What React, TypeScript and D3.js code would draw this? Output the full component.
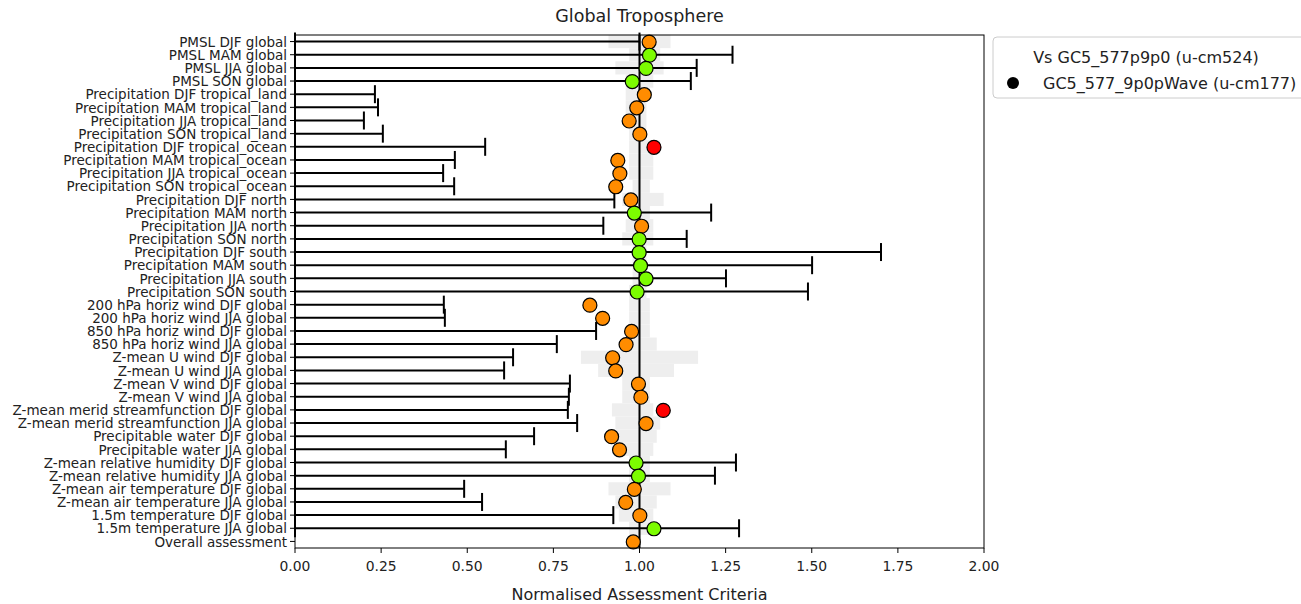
import React from "react";
import * as d3 from "d3";

const categories = [
  "PMSL DJF global", "PMSL MAM global", "PMSL JJA global", "PMSL SON global",
  "Precipitation DJF tropical_land", "Precipitation MAM tropical_land", "Precipitation JJA tropical_land", "Precipitation SON tropical_land",
  "Precipitation DJF tropical_ocean", "Precipitation MAM tropical_ocean", "Precipitation JJA tropical_ocean", "Precipitation SON tropical_ocean",
  "Precipitation DJF north", "Precipitation MAM north", "Precipitation JJA north", "Precipitation SON north",
  "Precipitation DJF south", "Precipitation MAM south", "Precipitation JJA south", "Precipitation SON south",
  "200 hPa horiz wind DJF global", "200 hPa horiz wind JJA global",
  "850 hPa horiz wind DJF global", "850 hPa horiz wind JJA global",
  "Z-mean U wind DJF global", "Z-mean U wind JJA global",
  "Z-mean V wind DJF global", "Z-mean V wind JJA global",
  "Z-mean merid streamfunction DJF global", "Z-mean merid streamfunction JJA global",
  "Precipitable water DJF global", "Precipitable water JJA global",
  "Z-mean relative humidity DJF global", "Z-mean relative humidity JJA global",
  "Z-mean air temperature DJF global", "Z-mean air temperature JJA global",
  "1.5m temperature DJF global", "1.5m temperature JJA global",
  "Overall assessment",
];

// Normalised assessment criteria of the experiment (dots)
const scores = [
  1.028, 1.029, 1.019, 0.979,
  1.014, 0.992, 0.970, 1.001,
  1.042, 0.937, 0.943, 0.931,
  0.975, 0.985, 1.006, 0.999,
  0.999, 1.003, 1.019, 0.993,
  0.856, 0.893, 0.977, 0.961,
  0.922, 0.931, 0.997, 1.004,
  1.069, 1.019, 0.919, 0.942,
  0.990, 0.997, 0.985, 0.960,
  1.001, 1.042, 0.982,
];

// Dot status: g = green, o = orange, r = red
const status = [
  "o", "g", "g", "g",
  "o", "o", "o", "o",
  "r", "o", "o", "o",
  "o", "g", "o", "g",
  "g", "g", "g", "g",
  "o", "o", "o", "o",
  "o", "o", "o", "o",
  "r", "o", "o", "o",
  "g", "g", "o", "o",
  "o", "g", "o",
];

// Upper end of the black error bar (lower end is 0)
const errHigh: (number | null)[] = [
  1.0, 1.27, 1.166, 1.149,
  0.232, 0.241, 0.2, 0.255,
  0.552, 0.464, 0.43, 0.462,
  0.927, 1.208, 0.895, 1.137,
  1.701, 1.501, 1.251, 1.489,
  0.432, 0.435, 0.874, 0.76,
  0.633, 0.607, 0.798, 0.795,
  0.792, 0.819, 0.694, 0.612,
  1.28, 1.219, 0.491, 0.543,
  0.924, 1.289, null,
];

// Light grey reference range
const rangeLow: (number | null)[] = [
  0.91, 0.97, 0.93, 0.96,
  0.96, 0.96, 0.96, 0.97,
  0.97, 0.97, 0.97, 0.98,
  0.95, 0.97, 0.96, 0.95,
  0.98, 0.98, 0.98, 0.97,
  0.97, 0.97, 0.97, 0.96,
  0.83, 0.88, 0.95, 0.95,
  0.92, 0.93, 0.93, 0.94,
  0.97, 0.97, 0.91, 0.93,
  0.94, 0.97, null,
];
const rangeHigh: (number | null)[] = [
  1.09, 1.06, 1.07, 1.04,
  1.03, 1.02, 1.02, 1.02,
  1.06, 1.04, 1.04, 1.03,
  1.07, 1.03, 1.04, 1.04,
  1.02, 1.02, 1.02, 1.02,
  1.03, 1.03, 1.03, 1.05,
  1.17, 1.10, 1.03, 1.03,
  1.04, 1.06, 1.05, 1.04,
  1.03, 1.03, 1.09, 1.05,
  1.04, 1.03, null,
];

const xTicks = [0, 0.25, 0.5, 0.75, 1.0, 1.25, 1.5, 1.75, 2.0];

const title = "Global Troposphere";
const xLabel = "Normalised Assessment Criteria";
const legendTitle = "Vs GC5_577p9p0 (u-cm524)";
const legendLabel = "GC5_577_9p0pWave (u-cm177)";

const colorMap: Record<string, string> = { g: "#7cfc00", o: "#ff8c00", r: "#ff0000" };

export default function App() {
  const W = 1301, H = 604;
  const left = 295, right = 984, top = 35, bottom = 548;
  const font = "'DejaVu Sans', sans-serif";

  const x = d3.scaleLinear().domain([0, 2]).range([left, right]);
  const y = d3.scaleLinear().domain([-0.5, categories.length - 0.5]).range([top, bottom]);
  const rowH = Math.abs(y(1) - y(0));
  const cap = 9;

  return (
    <div style={{ position: "absolute", left: 0, top: 0 }}>
      <svg width={W} height={H} style={{ display: "block", background: "#fff" }}>
        <rect x={0} y={0} width={W} height={H} fill="#fff" />
        {/* grey ranges */}
        {categories.map((c, i) =>
          rangeLow[i] != null && rangeHigh[i] != null ? (
            <rect key={"g" + i} x={x(rangeLow[i] as number)} y={y(i) - rowH / 2}
              width={x(rangeHigh[i] as number) - x(rangeLow[i] as number)} height={rowH}
              fill="#eeeeee" />
          ) : null
        )}
        {/* reference line */}
        <line x1={x(1)} x2={x(1)} y1={top} y2={bottom} stroke="#000" strokeWidth={2} />
        {/* error bars */}
        {categories.map((c, i) => {
          const h = errHigh[i];
          if (h == null) return null;
          const yy = y(i);
          return (
            <g key={"e" + i} stroke="#000" strokeWidth={2}>
              <line x1={x(0)} x2={x(h)} y1={yy} y2={yy} />
              <line x1={x(0)} x2={x(0)} y1={yy - cap} y2={yy + cap} />
              <line x1={x(h)} x2={x(h)} y1={yy - cap} y2={yy + cap} />
            </g>
          );
        })}
        {/* dots */}
        {categories.map((c, i) => (
          <circle key={"d" + i} cx={x(scores[i])} cy={y(i) + 0.5} r={7}
            fill={colorMap[status[i]]} stroke="#000" strokeWidth={1.2} />
        ))}
        {/* frame */}
        <rect x={left} y={top} width={right - left} height={bottom - top} fill="none" stroke="#000" strokeWidth={1} />
        {/* y ticks + labels */}
        {categories.map((c, i) => (
          <g key={"yt" + i}>
            <line x1={left - 5} x2={left} y1={y(i)} y2={y(i)} stroke="#000" strokeWidth={1} />
            <text x={left - 8} y={y(i) + 0.5} dy="0.35em" textAnchor="end" fontFamily={font} fontSize={13.5} fill="#222">{c}</text>
          </g>
        ))}
        {/* x ticks */}
        {xTicks.map((t) => (
          <g key={"xt" + t}>
            <line x1={x(t)} x2={x(t)} y1={bottom} y2={bottom + 5} stroke="#000" strokeWidth={1} />
            <text x={x(t)} y={bottom + 23} textAnchor="middle" fontFamily={font} fontSize={13.9} fill="#222">{d3.format(".2f")(t)}</text>
          </g>
        ))}
        <text x={(left + right) / 2} y={600} textAnchor="middle" fontFamily={font} fontSize={16} fill="#222">{xLabel}</text>
        <text x={(left + right) / 2} y={22} textAnchor="middle" fontFamily={font} fontSize={17.5} fill="#222">{title}</text>
        {/* legend */}
        <rect x={993} y={37} width={330} height={61} rx={4} fill="#fff" fillOpacity={0.8} stroke="#cccccc" strokeWidth={1} />
        <text x={1146} y={57} dy="0.35em" textAnchor="middle" fontFamily={font} fontSize={16} fill="#222">{legendTitle}</text>
        <circle cx={1013} cy={83} r={6} fill="#000" />
        <text x={1043} y={83} dy="0.35em" fontFamily={font} fontSize={16} fill="#222">{legendLabel}</text>
      </svg>
    </div>
  );
}
